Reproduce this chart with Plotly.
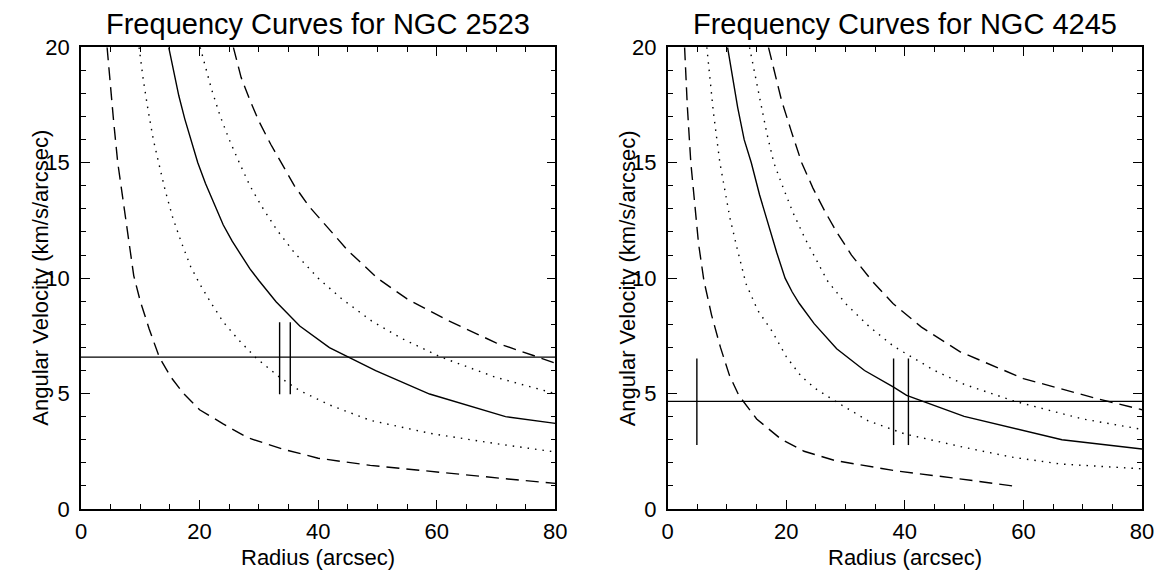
import plotly.graph_objects as go

# ---------------- NGC 2523 (left panel) ----------------
l_omega_x = [14.8, 15.5, 16.5, 17.5, 18.5, 19.7, 21, 22.5, 24, 25.5, 27, 28.5, 30, 31.5, 32.9, 36.9, 41.9, 49.7, 58.8, 71.6, 80]
l_omega_y = [20, 19.1, 17.9, 16.9, 16.0, 15.0, 14.1, 13.2, 12.3, 11.6, 11.0, 10.4, 9.9, 9.4, 8.98, 7.93, 6.99, 5.99, 4.98, 4.0, 3.71]

l_minus4_x = [9.8, 10.5, 11.3, 12.2, 13.1, 14.2, 15.5, 17, 18.5, 20, 22, 24, 26.5, 29.5, 33.5, 36.8, 42, 48.8, 59, 70, 80]
l_minus4_y = [20, 18.6, 17.3, 16.0, 15.0, 13.8, 12.6, 11.5, 10.5, 9.76, 8.9, 8.1, 7.35, 6.55, 5.71, 5.14, 4.5, 3.84, 3.27, 2.83, 2.47]

l_plus4_x = [20.1, 21, 22, 23.5, 25, 26.7, 28.5, 30.5, 33, 36, 40, 44, 49, 54, 60.7, 70, 80]
l_plus4_y = [20, 19.1, 18.2, 17.0, 16.0, 15.0, 14.0, 13.1, 12.1, 11.1, 10.0, 9.1, 8.15, 7.4, 6.58, 5.7, 5.0]

l_plus2_x = [25.7, 27, 28.5, 30, 32, 33.8, 36, 38.5, 41.5, 45, 50, 55, 62, 70, 76.3, 80]
l_plus2_y = [20, 18.7, 17.7, 16.8, 15.8, 15.0, 14.0, 13.1, 12.2, 11.2, 10.0, 9.1, 8.15, 7.2, 6.65, 6.32]

l_minus2_x = [4.4, 4.9, 5.5, 6.2, 7.0, 7.9, 8.9, 10, 11.5, 13.2, 15.2, 17.3, 20, 23.9, 28, 33.8, 40, 48.8, 61.3, 72, 80]
l_minus2_y = [20, 18.4, 16.8, 15.0, 13.5, 11.8, 10.1, 9.0, 7.8, 6.58, 5.7, 5.0, 4.3, 3.7, 3.1, 2.61, 2.2, 1.89, 1.56, 1.3, 1.11]

l_pattern = 6.58
l_marks_x = [33.5, 35.3]
l_marks_y = [4.97, 8.09]

# ---------------- NGC 4245 (right panel) ----------------
r_omega_x = [10.1, 10.9, 11.8, 12.9, 14.1, 15.5, 17, 18.4, 19.8, 21, 22.2, 24.7, 28.5, 33.2, 38.1, 40.3, 50, 66.5, 80]
r_omega_y = [20, 18.7, 17.4, 16.0, 15.0, 13.6, 12.3, 11.1, 10.0, 9.4, 8.9, 8.03, 6.94, 6.0, 5.28, 4.92, 4.01, 3.0, 2.6]

r_minus4_x = [6.6, 7.1, 7.7, 8.8, 9.6, 10.5, 11.7, 13.2, 15.2, 17.6, 20, 22.5, 25, 28.2, 33.8, 40, 50, 58, 66.2, 80]
r_minus4_y = [20, 18.6, 17.2, 15.0, 13.8, 12.6, 11.3, 9.76, 8.6, 7.7, 6.6, 5.75, 5.2, 4.68, 3.82, 3.25, 2.67, 2.25, 1.95, 1.74]

r_plus4_x = [13.8, 14.6, 15.6, 16.7, 17.9, 19.5, 21.2, 23.2, 25, 26.9, 30, 34, 38.1, 45, 50, 58.7, 70, 80]
r_plus4_y = [20, 18.9, 17.7, 16.3, 15.0, 13.9, 12.8, 11.7, 10.8, 9.9, 8.9, 7.9, 7.05, 6.0, 5.4, 4.65, 3.9, 3.45]

r_plus2_x = [17.0, 18, 19.2, 20.8, 22.6, 24.5, 26.5, 28.5, 31, 34.4, 38, 42.8, 49.4, 60, 72.4, 80]
r_plus2_y = [20, 18.9, 17.7, 16.4, 15.0, 13.9, 12.9, 12.0, 11.0, 9.9, 8.9, 7.88, 6.8, 5.65, 4.78, 4.3]

r_minus2_x = [2.85, 3.3, 3.9, 4.5, 5.2, 6.1, 7.4, 8.9, 10.4, 12, 15, 19.1, 23, 28.2, 38.8, 48, 58.4]
r_minus2_y = [20, 17.5, 15.0, 13.3, 11.5, 9.9, 8.4, 7.0, 5.8, 4.92, 3.9, 3.03, 2.5, 2.1, 1.64, 1.35, 0.99]

r_pattern = 4.66
r_marks_x = [4.92, 38.1, 40.6]
r_marks_y = [2.77, 6.52]

titles = ["Frequency Curves for NGC 2523", "Frequency Curves for NGC 4245"]
xlabel = "Radius (arcsec)"
ylabel = "Angular Velocity (km/s/arcsec)"

W, H = 1159, 571
FONT = "Liberation Sans, Arial, Helvetica, sans-serif"
LW = 1.4
DASH = "13px,7px"
DOT = "1.5px,6px"
TICKFS = 22
LABELFS = 22
TITLEFS = 29

fig = go.Figure()

def add_panel(xa, ya, curves, pattern, marks_x, marks_y):
    for cx, cy, dash in curves:
        fig.add_trace(go.Scatter(x=cx, y=cy, mode="lines", xaxis=xa, yaxis=ya,
                                 line=dict(color="black", width=LW, dash=dash),
                                 showlegend=False, hoverinfo="skip"))
    fig.add_trace(go.Scatter(x=[0, 80], y=[pattern, pattern], mode="lines", xaxis=xa, yaxis=ya,
                             line=dict(color="black", width=LW), showlegend=False, hoverinfo="skip"))
    for mx in marks_x:
        fig.add_trace(go.Scatter(x=[mx, mx], y=marks_y, mode="lines", xaxis=xa, yaxis=ya,
                                 line=dict(color="black", width=LW), showlegend=False, hoverinfo="skip"))

add_panel("x", "y", [
    (l_omega_x, l_omega_y, "solid"),
    (l_minus4_x, l_minus4_y, DOT),
    (l_plus4_x, l_plus4_y, DOT),
    (l_minus2_x, l_minus2_y, DASH),
    (l_plus2_x, l_plus2_y, DASH),
], l_pattern, l_marks_x, l_marks_y)

add_panel("x2", "y2", [
    (r_omega_x, r_omega_y, "solid"),
    (r_minus4_x, r_minus4_y, DOT),
    (r_plus4_x, r_plus4_y, DOT),
    (r_minus2_x, r_minus2_y, DASH),
    (r_plus2_x, r_plus2_y, DASH),
], r_pattern, r_marks_x, r_marks_y)

ydom = [1 - 509 / H, 1 - 47.3 / H]
xdom1 = [81 / W, 555.3 / W]
xdom2 = [667.7 / W, 1142 / W]

def xax(dom, anchor):
    return dict(domain=dom, anchor=anchor, range=[0, 80], tickvals=[0, 20, 40, 60, 80],
                ticks="inside", ticklen=9, tickwidth=1.4, tickcolor="black",
                minor=dict(dtick=5, tick0=0, ticks="inside", ticklen=5, tickwidth=1.2, tickcolor="black"),
                showline=True, linecolor="black", linewidth=1.6, mirror="allticks",
                showgrid=False, zeroline=False, automargin=False,
                tickfont=dict(family=FONT, size=TICKFS, color="black"),
                ticklabelstandoff=2, fixedrange=True)

def yax(anchor):
    return dict(domain=ydom, anchor=anchor, range=[0, 20], tickvals=[0, 5, 10, 15, 20],
                ticks="inside", ticklen=9, tickwidth=1.4, tickcolor="black",
                minor=dict(dtick=1, tick0=0, ticks="inside", ticklen=5, tickwidth=1.2, tickcolor="black"),
                showline=True, linecolor="black", linewidth=1.6, mirror="allticks",
                showgrid=False, zeroline=False, automargin=False,
                tickfont=dict(family=FONT, size=TICKFS, color="black"),
                ticklabelstandoff=5, fixedrange=True)

annotations = []
for dom, t in zip([xdom1, xdom2], titles):
    cx = (dom[0] + dom[1]) / 2
    annotations.append(dict(text=t, x=cx, y=1 - 24.3 / H, xref="paper", yref="paper",
                            xanchor="center", yanchor="middle", showarrow=False,
                            font=dict(family=FONT, size=TITLEFS, color="black")))
    annotations.append(dict(text=xlabel, x=cx, y=1 - 557 / H, xref="paper", yref="paper",
                            xanchor="center", yanchor="middle", showarrow=False,
                            font=dict(family=FONT, size=LABELFS, color="black")))
    annotations.append(dict(text=ylabel, x=(dom[0] * W - 40.5) / W, y=(ydom[0] + ydom[1]) / 2,
                            xref="paper", yref="paper", textangle=-90,
                            xanchor="center", yanchor="middle", showarrow=False,
                            font=dict(family=FONT, size=LABELFS, color="black")))

fig.update_layout(
    template="none",
    width=W, height=H, margin=dict(l=0, r=0, t=0, b=0, pad=0, autoexpand=False),
    paper_bgcolor="white", plot_bgcolor="white",
    xaxis=xax(xdom1, "y"), yaxis=yax("x"),
    xaxis2=xax(xdom2, "y2"), yaxis2=yax("x2"),
    annotations=annotations, showlegend=False,
)

fig.write_html("out.html")
